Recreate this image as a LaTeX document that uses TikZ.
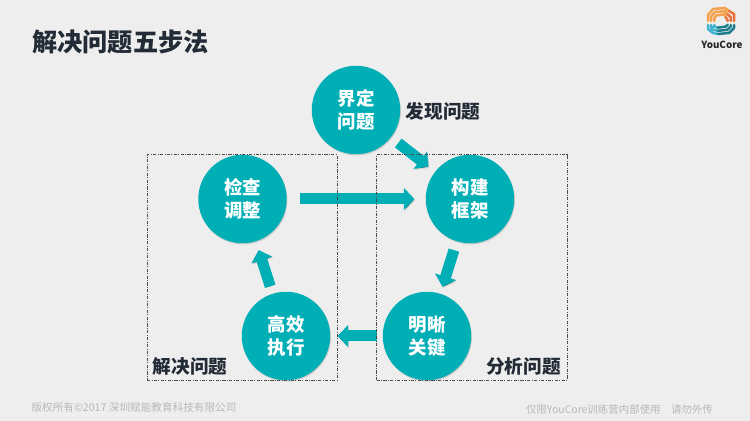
\documentclass[tikz,border=0pt]{standalone}
\usepackage{fontspec}
\setmainfont{Noto Sans CJK SC}
\usetikzlibrary{arrows.meta,shadows}
\definecolor{tealc}{HTML}{00AEB6}
\definecolor{darkc}{HTML}{232B36}
\definecolor{footc}{HTML}{B8B8B8}
\definecolor{bgc}{HTML}{EEEEEE}
\definecolor{orangec}{HTML}{F5A04A}
\definecolor{redc}{HTML}{E9703A}
\definecolor{bluec}{HTML}{3FB4CE}
\definecolor{deepc}{HTML}{1F7F8C}
\begin{document}
\begin{tikzpicture}[x=0.02cm, y=-0.02cm, >=latex,
      stepc/.style={circle, fill=tealc, text=white, inner sep=0pt, minimum size=1.77cm, align=center,
        font=\bfseries\fontsize{10.5}{12.9}\selectfont,
        drop shadow={opacity=0.3, shadow xshift=0.4pt, shadow yshift=-0.7pt}},
      flow/.style={draw=tealc, line width=0.22cm, -{Triangle[length=0.21cm,width=0.43cm]},
        preaction={draw=black, draw opacity=0.12, transform canvas={shift={(0.4pt,-0.7pt)}}}},
      area/.style={draw=black!70, dash pattern=on 1.8pt off 0.8pt on 0.5pt off 0.8pt, line width=0.4pt, inner sep=0pt},
      lbl/.style={text=darkc, inner sep=0pt, font=\bfseries\fontsize{10.6}{12}\selectfont},
      foot/.style={text=footc, inner sep=0pt},
      lg/.style={line width=0.05cm, line join=round, line cap=round}]
    \useasboundingbox (0,0) rectangle (750,421);
    \fill[bgc] (0,0) rectangle (750,421);
    \node[text=darkc, inner sep=0pt, font=\bfseries\fontsize{14.35}{16}\selectfont] (title) at (120.5,42) {解决问题五步法};
    % five steps
    \node[stepc] (define) at (356,110) {界定\\问题};
    \node[stepc] (frame) at (470,199) {构建\\框架};
    \node[stepc] (key) at (427,336) {明晰\\关键};
    \node[stepc] (act) at (286,336) {高效\\执行};
    \node[stepc] (check) at (242.5,199) {检查\\调整};
    \draw[flow, shorten <=0.18cm, shorten >=0.16cm] (define) -- (frame);
    \draw[flow, shorten <=0.18cm, shorten >=0.14cm] (frame) -- (key);
    \draw[flow, shorten <=0.1cm, shorten >=0.14cm] (key) -- (act);
    \draw[flow, shorten <=0.15cm, shorten >=0.18cm] (act) -- (check);
    \draw[flow, shorten <=0.26cm, shorten >=0.22cm] (check) -- (frame);
    \node[area, minimum width=3.8cm, minimum height=4.51cm] (solve) at (242,267.3) {};
    \node[area, minimum width=3.81cm, minimum height=4.51cm] (analyse) at (471.8,267.3) {};
    \node[lbl] (find) at (443,111) {发现问题};
    \node[lbl] (solvet) at (190,366.5) {解决问题};
    \node[lbl] (analyset) at (523.5,366.5) {分析问题};
    \node[foot, font=\fontsize{6.05}{8}\selectfont] (copy) at (134,407) {版权所有©2017 深圳赋能教育科技有限公司};
    \node[foot, font=\fontsize{5.95}{8}\selectfont] (only) at (619.5,410) {仅限YouCore训练营内部使用\hspace{1em}请勿外传};
    % logo
    \foreach \d in {0,3.2,6.4} {
      \draw[lg, orangec] (708+\d,21) -- (708+\d,15+\d/2) -- (713+\d/2,9+\d) -- (725,8+\d) -- (729-\d/2,11+\d);
      \draw[lg, redc] (729-\d/2,11+\d) -- (734-\d,14+\d) -- (734-\d,21);
      \draw[lg, bluec] (708+\d,25) -- (708+\d,29-\d/3) -- (713,33-\d) -- (718,34-\d);
      \draw[lg, deepc] (718,34-\d) -- (729-\d/2,33-\d) -- (734-\d,28-\d/2) -- (734-\d,25);
    }
    \node[text=black!85, inner sep=0pt, font=\bfseries\fontsize{5.6}{6}\selectfont] (brand) at (722,45) {YouCore};
  \end{tikzpicture}
\end{document}
